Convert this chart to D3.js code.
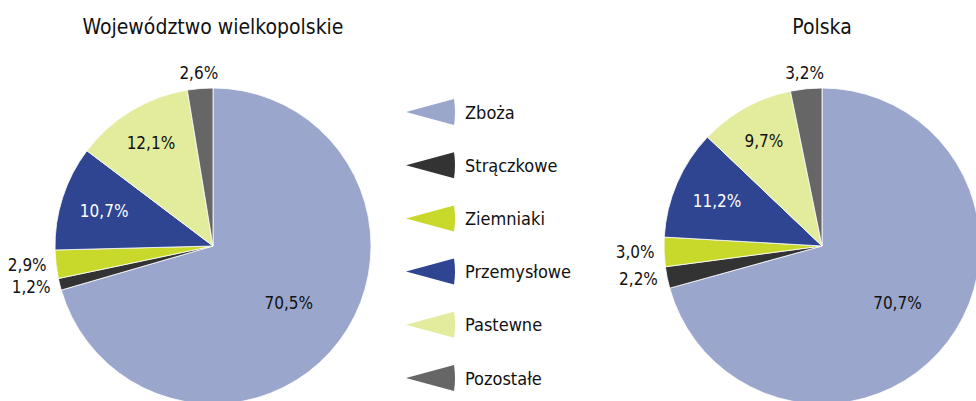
<!DOCTYPE html>
<html>
<head>
<meta charset="utf-8">
<script src="https://cdn.jsdelivr.net/npm/d3@7"></script>
<style>
  body { margin: 0; background: #fff; }
  svg { display: block; font-family: "Liberation Sans Narrow", "DejaVu Sans Condensed", sans-serif; }
</style>
</head>
<body>
<div id="chart"></div>
<script>
// crop shares, clockwise from 12 o'clock
const CATEGORIES = ["Zboża", "Strączkowe", "Ziemniaki", "Przemysłowe", "Pastewne", "Pozostałe"];
const WIELKOPOLSKIE = [70.5, 1.2, 2.9, 10.7, 12.1, 2.6];
const POLSKA = [70.7, 2.2, 3.0, 11.2, 9.7, 3.2];
const TITLES = ["Województwo wielkopolskie", "Polska"];

const COLORS = ["#9aa6cc", "#333333", "#c9d92b", "#2f4591", "#e3eb9c", "#666666"];
// how each label is placed: inside / outside-top / outside-left
const LABEL_MODE = ["inside", "left", "left", "insideWhite", "inside", "top"];

const width = 976, height = 401;
const R = 158;

const svg = d3.select("#chart").append("svg")
  .attr("width", width).attr("height", height);

const fmt = v => d3.format(".1f")(v).replace(".", ",") + "%";

const pie = d3.pie().sort(null).value(d => d);
const arc = d3.arc().innerRadius(0).outerRadius(R);

function drawPie(values, cx, title) {
  const g = svg.append("g").attr("transform", `translate(${cx},246)`);
  const arcs = pie(values);

  g.selectAll("path")
    .data(arcs)
    .join("path")
    .attr("d", arc)
    .attr("fill", (d, i) => COLORS[i])
    .attr("stroke", "#fff")
    .attr("stroke-width", 0.8);

  svg.append("text")
    .attr("x", cx).attr("y", 34)
    .attr("text-anchor", "middle")
    .style("font-size", "21px")
    .style("fill", "#111")
    .text(title);

  const inner = d3.arc().innerRadius(0).outerRadius(R * 1.2);   // centroid at 0.6R
  const mid = d3.arc().innerRadius(R * 1.52).outerRadius(R * 1.52);
  const outer = d3.arc().innerRadius(R * 1.1).outerRadius(R * 1.1);
  const side = d3.arc().innerRadius(R * 1.06).outerRadius(R * 1.06);

  arcs.forEach((d, i) => {
    const mode = LABEL_MODE[i];
    let p, anchor = "middle", fill = "#111";
    if (mode === "inside" && i === 0) p = inner.centroid(d);
    else if (mode === "inside") p = mid.centroid(d).map(v => v / 2);
    else if (mode === "insideWhite") { p = mid.centroid(d).map(v => v / 2.1); fill = "#fff"; }
    else if (mode === "top") p = outer.centroid(d);
    else { p = side.centroid(d); anchor = "end"; }
    g.append("text")
      .attr("x", p[0]).attr("y", p[1])
      .attr("text-anchor", anchor)
      .attr("dominant-baseline", "central")
      .style("font-size", "17px")
      .style("fill", fill)
      .text(fmt(d.data));
  });
}

drawPie(WIELKOPOLSKIE, 213, TITLES[0]);
drawPie(POLSKA, 822, TITLES[1]);

// legend: thin wedge markers pointing left
const legendY = d3.scalePoint().domain(CATEGORIES).range([112, 378]);
const legend = svg.append("g");
const items = legend.selectAll("g")
  .data(CATEGORIES)
  .join("g")
  .attr("transform", d => `translate(406,${legendY(d)})`);

items.append("path")
  .attr("d", "M0,0 L48,-13 Q50,0 48,13 Z")
  .attr("fill", (d, i) => COLORS[i]);

items.append("text")
  .attr("x", 59)
  .attr("y", 0)
  .attr("dominant-baseline", "central")
  .style("font-size", "18px")
  .style("fill", "#111")
  .text(d => d);
</script>
</body>
</html>
